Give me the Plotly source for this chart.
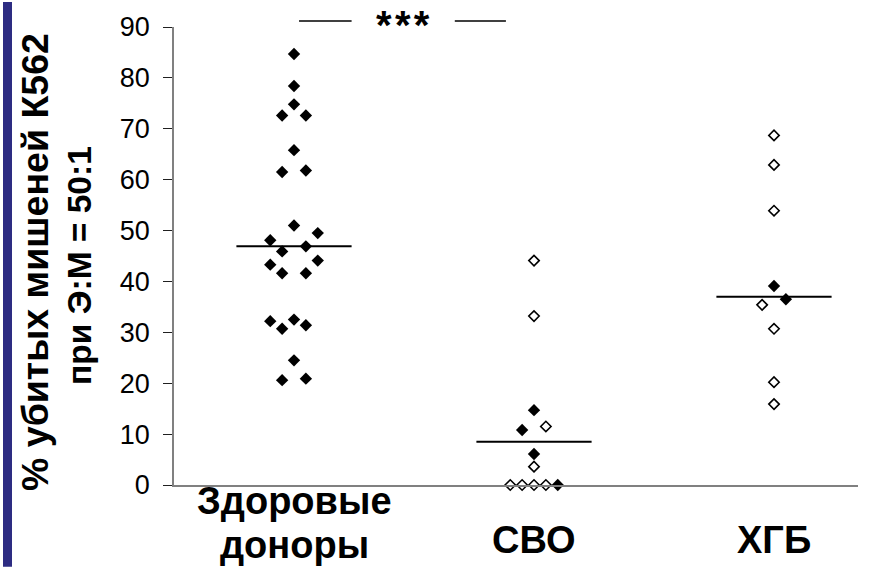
import plotly.graph_objects as go

# Groups and their tick labels (first group spans two lines)
group_line1 = ["Здоровые", "СВО", "ХГБ"]
group_line2 = ["доноры", "", ""]

# Healthy donors: cytotoxicity values (%) and horizontal jitter slot
donors_val = [84.7, 78.4, 74.8, 72.6, 72.6, 65.8, 61.5, 61.8, 51.0, 49.5, 48.1,
              46.9, 45.9, 44.1, 43.3, 41.6, 41.6, 32.2, 30.7, 32.5, 31.4, 24.5,
              20.6, 20.9]
donors_slot = [0, 0, 0, -1.5, 1.5, 0, -1.5, 1.5, 0, 3, -3, 1.5, -1.5, 3, -3,
               -1.5, 1.5, -3, -1.5, 0, 1.5, 0, -1.5, 1.5]

# СВО: filled and open markers
svo_filled_val = [14.7, 10.8, 6.1, 0.0]
svo_filled_slot = [0, -1.5, 0, 3]
svo_open_val = [44.1, 33.2, 11.5, 3.6, 0.0, 0.0, 0.0, 0.0]
svo_open_slot = [0, 0, 1.5, 0, -3, -1.5, 0, 1.5]

# ХГБ: filled and open markers
hgb_filled_val = [39.1, 36.5]
hgb_filled_slot = [0, 1.5]
hgb_open_val = [68.7, 62.9, 53.9, 35.4, 30.7, 20.2, 15.9]
hgb_open_slot = [0, 0, 0, -1.5, 0, 0, 0]

# Group medians
medians = [46.9, 8.5, 37.0]

y_ticks = [0, 10, 20, 30, 40, 50, 60, 70, 80, 90]

SLOT = 0.033  # jitter step in category units
HALF = 0.24   # half-width of median bars

BLACK = "#000000"
FONT = "Liberation Sans, Arial, sans-serif"

# plot area in pixels, used to convert pixel offsets to paper units
L, R, T, B = 174, 27, 25, 82
PW, PH = 885 - L - R, 567 - T - B


def py(pix):
    return (567 - B - pix) / PH


def px(pix):
    return (pix - L) / PW


def xs(center, slots):
    return [center + s * SLOT for s in slots]


fig = go.Figure()

filled_style = dict(symbol="diamond", size=9.5, color=BLACK, line=dict(width=0))
open_style = dict(symbol="diamond", size=8, color="white",
                  line=dict(width=1.6, color=BLACK))

fig.add_trace(go.Scatter(x=xs(1, donors_slot), y=donors_val, mode="markers",
                         marker=filled_style, cliponaxis=False))
fig.add_trace(go.Scatter(x=xs(2, svo_open_slot), y=svo_open_val, mode="markers",
                         marker=open_style, cliponaxis=False))
fig.add_trace(go.Scatter(x=xs(2, svo_filled_slot), y=svo_filled_val, mode="markers",
                         marker=filled_style, cliponaxis=False))
fig.add_trace(go.Scatter(x=xs(3, hgb_open_slot), y=hgb_open_val, mode="markers",
                         marker=open_style, cliponaxis=False))
fig.add_trace(go.Scatter(x=xs(3, hgb_filled_slot), y=hgb_filled_val, mode="markers",
                         marker=filled_style, cliponaxis=False))

# Median bars
for i, m in enumerate(medians):
    fig.add_trace(go.Scatter(x=[i + 1 - HALF, i + 1 + HALF], y=[m, m], mode="lines",
                             line=dict(color=BLACK, width=2), cliponaxis=False))

shapes = [
    # dark blue strip along the left edge
    dict(type="rect", xref="paper", yref="paper",
         x0=px(3), x1=px(12), y0=py(567), y1=py(0),
         fillcolor="#2D2C82", line=dict(width=0), layer="below"),
    # significance bar pieces
    dict(type="line", xref="x", yref="paper", x0=1.021, x1=1.24,
         y0=py(19), y1=py(19), line=dict(color=BLACK, width=1.5)),
    dict(type="line", xref="x", yref="paper", x0=1.67, x1=1.883,
         y0=py(19), y1=py(19), line=dict(color=BLACK, width=1.5)),
]

annotations = [
    dict(text="<b>*&#8202;*&#8202;*</b>", x=1.454, y=py(23), xref="x", yref="paper",
         xanchor="center", yanchor="middle", showarrow=False,
         font=dict(size=40, color=BLACK, family=FONT)),
    dict(text="<b>% убитых мишеней К562</b>", textangle=-90,
         xref="paper", yref="paper", x=px(35), y=py(261),
         xanchor="center", yanchor="middle", showarrow=False,
         font=dict(size=37.5, color=BLACK, family=FONT)),
    dict(text="<b>при Э:М = 50:1</b>", textangle=-90,
         xref="paper", yref="paper", x=px(80), y=py(265),
         xanchor="center", yanchor="middle", showarrow=False,
         font=dict(size=33.5, color=BLACK, family=FONT)),
]

# Category labels under the axis (box tops in pixels)
LABEL_SIZE = 38
for i, (t1, t2) in enumerate(zip(group_line1, group_line2)):
    top1 = 477.5 if t2 else 517.5
    annotations.append(dict(text=f"<b>{t1}</b>", x=i + 1, xref="x",
                            y=py(top1), yref="paper",
                            xanchor="center", yanchor="top", showarrow=False,
                            font=dict(size=LABEL_SIZE, color=BLACK, family=FONT)))
    if t2:
        annotations.append(dict(text=f"<b>{t2}</b>", x=i + 1, xref="x",
                                y=py(522.3), yref="paper",
                                xanchor="center", yanchor="top", showarrow=False,
                                font=dict(size=LABEL_SIZE, color=BLACK, family=FONT)))

fig.update_layout(
    width=885, height=567,
    margin=dict(l=L, r=R, t=T, b=B),
    paper_bgcolor="white", plot_bgcolor="white",
    showlegend=False,
    shapes=shapes, annotations=annotations,
    xaxis=dict(range=[0.5, 3.35], showgrid=False, zeroline=False,
               showticklabels=False, ticks="", showline=True,
               linecolor="#808080", linewidth=1.5),
    yaxis=dict(range=[0, 90], tickvals=y_ticks, showgrid=False, zeroline=False,
               showline=True, linecolor="#808080", linewidth=1.5,
               ticks="outside", ticklen=9, tickwidth=1.2, tickcolor="#202020",
               ticklabelstandoff=8,
               tickfont=dict(size=27, color=BLACK, family=FONT)),
)

fig.write_html("out.html")
